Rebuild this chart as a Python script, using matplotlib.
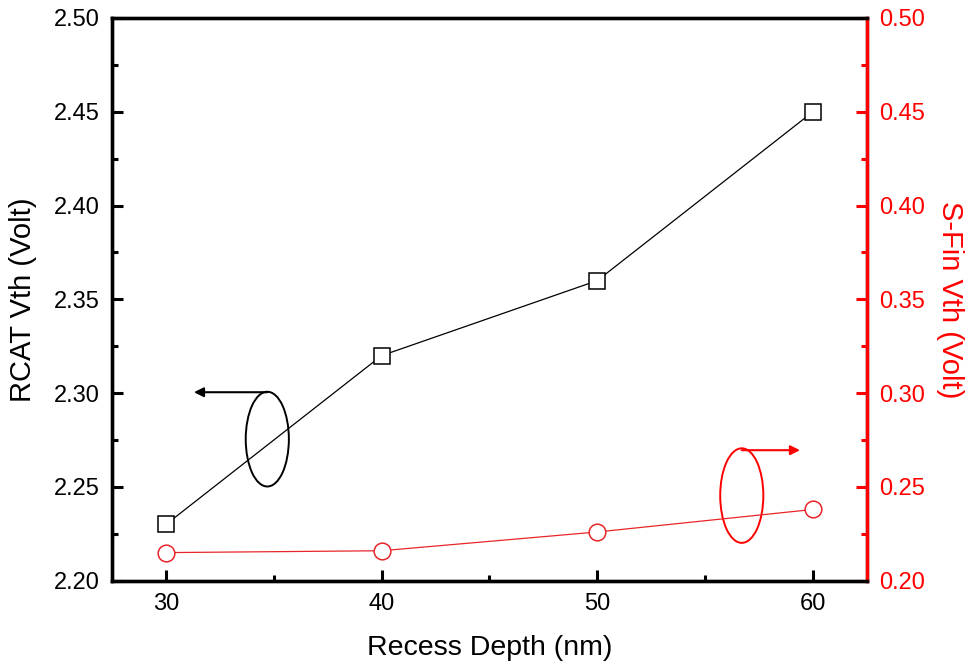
import numpy as np
import matplotlib
matplotlib.use("Agg")
import matplotlib.pyplot as plt
from matplotlib.patches import Ellipse
from matplotlib.ticker import MultipleLocator

# data
depth = [30, 40, 50, 60]
rcat_vth = [2.23, 2.32, 2.36, 2.45]
sfin_vth = [0.215, 0.216, 0.226, 0.238]

plt.rcParams['font.family'] = ['Liberation Sans', 'DejaVu Sans']

fig = plt.figure(figsize=(9.74, 6.66), dpi=100)
ax = fig.add_axes([0.115, 0.128, 0.775, 0.845])
ax2 = ax.twinx()

ax.plot(depth, rcat_vth, color='black', lw=0.9, marker='s', ms=11,
        mfc='white', mec='black', mew=1.1)
ax2.plot(depth, sfin_vth, color='#e8262a', lw=0.9, marker='o', ms=12,
         mfc='white', mec='#e8262a', mew=1.1)

ax.set_xlim(27.5, 62.5)
ax.set_ylim(2.20, 2.50)
ax2.set_ylim(0.20, 0.50)

ax.xaxis.set_major_locator(MultipleLocator(10))
ax.xaxis.set_minor_locator(MultipleLocator(5))
ax.yaxis.set_major_locator(MultipleLocator(0.05))
ax.yaxis.set_minor_locator(MultipleLocator(0.025))
ax2.yaxis.set_major_locator(MultipleLocator(0.05))
ax2.yaxis.set_minor_locator(MultipleLocator(0.025))
ax.yaxis.set_major_formatter('{x:.2f}')
ax2.yaxis.set_major_formatter('{x:.2f}')

for a in (ax, ax2):
    for s in a.spines.values():
        s.set_linewidth(2.4)
ax2.spines['right'].set_color('red')

ax.tick_params(axis='both', which='major', direction='in', length=8, width=2.2,
               labelsize=17, pad=9, top=False, right=False)
ax.tick_params(axis='both', which='minor', direction='in', length=4.5, width=2.2,
               top=False, right=False)
ax2.tick_params(axis='y', which='major', direction='in', length=8, width=2.2,
                labelsize=17, pad=9, colors='red')
ax2.tick_params(axis='y', which='minor', direction='in', length=4.5, width=2.2,
                colors='red')

ax.set_xlabel('Recess Depth (nm)', fontsize=20.5, labelpad=14)
ax.set_ylabel('RCAT Vth (Volt)', fontsize=21, labelpad=12)
ax2.set_ylabel('S-Fin Vth (Volt)', fontsize=21, color='red', rotation=270,
               labelpad=28)

# ellipses + arrows pointing to the matching axis
ax.add_patch(Ellipse((34.7, 2.2755), 2.0, 0.0505, fill=False, ec='black', lw=1.4))
ax.annotate('', xy=(31.3, 2.3005), xytext=(34.7, 2.3005),
            arrowprops=dict(arrowstyle='-|>', color='black', lw=1.5,
                            mutation_scale=14, shrinkA=0, shrinkB=0))
ax2.add_patch(Ellipse((56.7, 0.2454), 2.0, 0.0504, fill=False, ec='red', lw=1.4))
ax2.annotate('', xy=(59.4, 0.2696), xytext=(56.7, 0.2696),
             arrowprops=dict(arrowstyle='-|>', color='red', lw=1.5,
                             mutation_scale=14, shrinkA=0, shrinkB=0))

fig.savefig('out.png', dpi=100)
